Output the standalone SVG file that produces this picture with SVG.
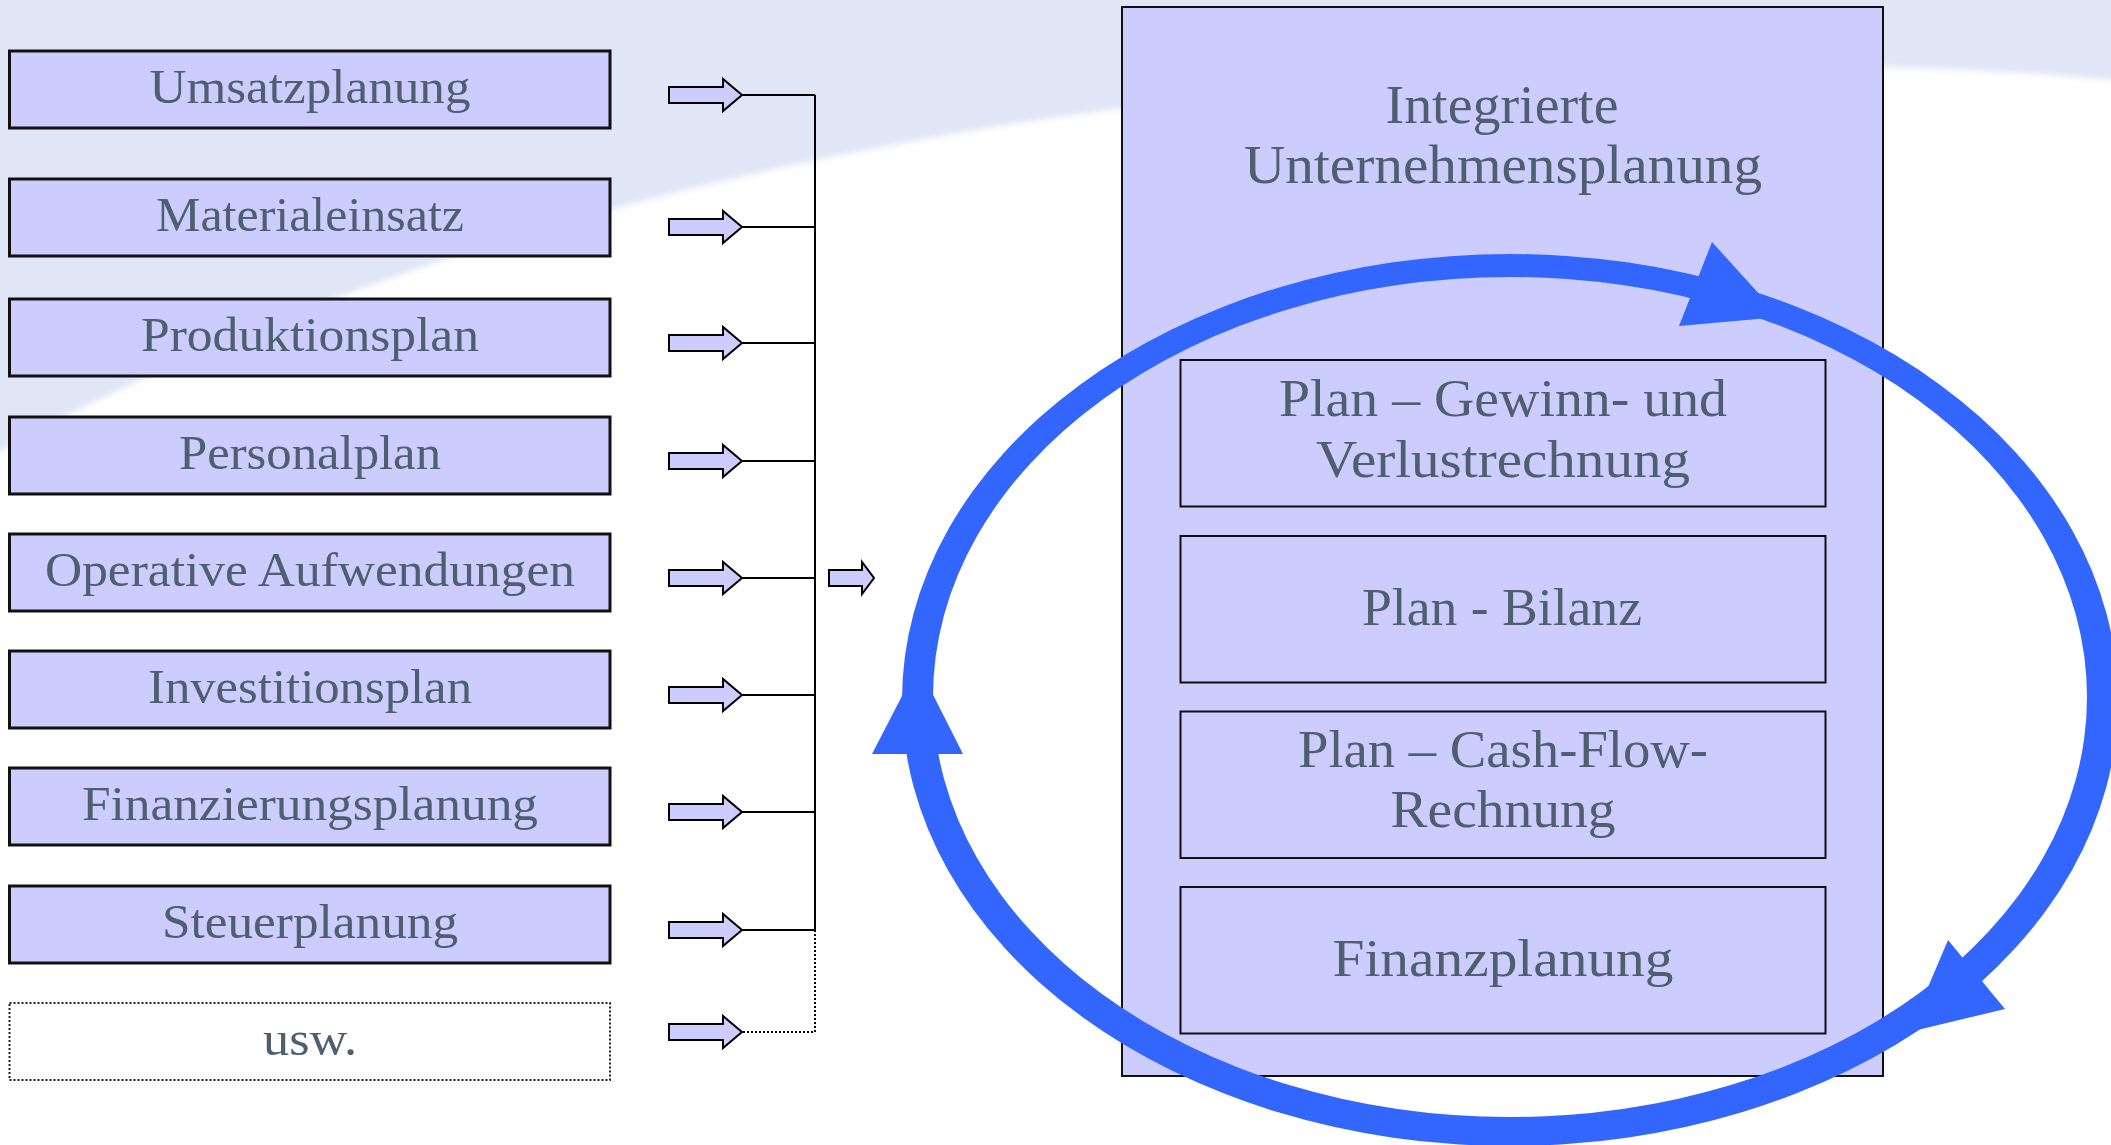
<svg xmlns="http://www.w3.org/2000/svg" width="2111" height="1145" viewBox="0 0 2111 1145">
<style>
.lbox{fill:#ccccff;stroke:#111;stroke-width:3}
.dbox{fill:#ffffff;stroke:#222;stroke-width:2;stroke-dasharray:2 2}
.ibox{fill:#ccccff;stroke:#111;stroke-width:2}
.t{font-family:"Liberation Serif","Times New Roman",serif;fill:#4e6070;text-anchor:middle}
.t48{font-size:48px}
.t52{font-size:52px}
.t54{font-size:54px}
.conn{stroke:#000;stroke-width:2;fill:none}
.dot{stroke:#000;stroke-width:2;fill:none;stroke-dasharray:2 2}
.barrow{fill:#ccccff;stroke:#000;stroke-width:2;stroke-linejoin:miter}
.blue{fill:#3366ff}
</style>
<defs>
<path id="ba" d="M669,-8 H723 V-16 L742,0 L723,16 V8 H669 Z"/>
<filter id="soft" x="-5%" y="-5%" width="110%" height="110%"><feGaussianBlur stdDeviation="3"/></filter>
</defs>
<rect x="0" y="0" width="2111" height="1145" fill="#ffffff"/>
<path d="M-20,-20 H2131 V82 C1900,58 1600,62 1300,88 C800,135 350,255 -20,462 Z" fill="#e0e6f6" filter="url(#soft)"/>

<g id="connectors">
<g class="barrow">
<use href="#ba" transform="translate(0,95)"/>
<use href="#ba" transform="translate(0,227)"/>
<use href="#ba" transform="translate(0,343)"/>
<use href="#ba" transform="translate(0,461)"/>
<use href="#ba" transform="translate(0,578)"/>
<use href="#ba" transform="translate(0,695)"/>
<use href="#ba" transform="translate(0,812)"/>
<use href="#ba" transform="translate(0,930)"/>
<use href="#ba" transform="translate(0,1032)"/>
<path d="M829,570 H862 V562 L874,578 L862,594 V586 H829 Z"/>
</g>
<path class="conn" d="M742,95 H815 M742,227 H815 M742,343 H815 M742,461 H815 M742,578 H815 M742,695 H815 M742,812 H815 M742,930 H815 M815,95 V930"/>
<path class="dot" d="M815,930 V1032 H742"/>
</g>

<g id="n1"><rect class="lbox" x="9.5" y="51" width="600.5" height="77"/><text class="t t48" x="310" y="103" textLength="321" lengthAdjust="spacingAndGlyphs">Umsatzplanung</text></g>
<g id="n2"><rect class="lbox" x="9.5" y="179" width="600.5" height="77"/><text class="t t48" x="310" y="231" textLength="308" lengthAdjust="spacingAndGlyphs">Materialeinsatz</text></g>
<g id="n3"><rect class="lbox" x="9.5" y="299" width="600.5" height="77"/><text class="t t48" x="310" y="351" textLength="338" lengthAdjust="spacingAndGlyphs">Produktionsplan</text></g>
<g id="n4"><rect class="lbox" x="9.5" y="417" width="600.5" height="77"/><text class="t t48" x="310" y="469" textLength="262" lengthAdjust="spacingAndGlyphs">Personalplan</text></g>
<g id="n5"><rect class="lbox" x="9.5" y="534" width="600.5" height="77"/><text class="t t48" x="310" y="586" textLength="530" lengthAdjust="spacingAndGlyphs">Operative Aufwendungen</text></g>
<g id="n6"><rect class="lbox" x="9.5" y="651" width="600.5" height="77"/><text class="t t48" x="310" y="703" textLength="324" lengthAdjust="spacingAndGlyphs">Investitionsplan</text></g>
<g id="n7"><rect class="lbox" x="9.5" y="768" width="600.5" height="77"/><text class="t t48" x="310" y="820" textLength="456" lengthAdjust="spacingAndGlyphs">Finanzierungsplanung</text></g>
<g id="n8"><rect class="lbox" x="9.5" y="886" width="600.5" height="77"/><text class="t t48" x="310" y="938" textLength="296" lengthAdjust="spacingAndGlyphs">Steuerplanung</text></g>
<g id="n9"><rect class="dbox" x="9.5" y="1003" width="600.5" height="77"/><text class="t t48" x="310" y="1055" textLength="94" lengthAdjust="spacingAndGlyphs">usw.</text></g>

<g id="main">
<rect class="ibox" x="1122" y="7" width="761" height="1069"/>
<text class="t t54" x="1502" y="123" textLength="233" lengthAdjust="spacingAndGlyphs">Integrierte</text>
<text class="t t54" x="1503" y="183" textLength="518" lengthAdjust="spacingAndGlyphs">Unternehmensplanung</text>
</g>
<g id="guv"><rect class="ibox" x="1180.5" y="360" width="645" height="146.5"/>
<text class="t t52" x="1503" y="416" textLength="448" lengthAdjust="spacingAndGlyphs">Plan – Gewinn- und</text>
<text class="t t52" x="1503" y="477" textLength="374" lengthAdjust="spacingAndGlyphs">Verlustrechnung</text></g>
<g id="bilanz"><rect class="ibox" x="1180.5" y="536" width="645" height="146.5"/>
<text class="t t52" x="1502" y="625" textLength="280" lengthAdjust="spacingAndGlyphs">Plan - Bilanz</text></g>
<g id="cashflow"><rect class="ibox" x="1180.5" y="711.5" width="645" height="146.5"/>
<text class="t t52" x="1503" y="767" textLength="410" lengthAdjust="spacingAndGlyphs">Plan – Cash-Flow-</text>
<text class="t t52" x="1503" y="827" textLength="225" lengthAdjust="spacingAndGlyphs">Rechnung</text></g>
<g id="finanz"><rect class="ibox" x="1180.5" y="887" width="645" height="146.5"/>
<text class="t t52" x="1503" y="976" textLength="341" lengthAdjust="spacingAndGlyphs">Finanzplanung</text></g>

<g id="cycle" class="blue">
<path fill-rule="evenodd" d="M902,700 a608,446 0 1,0 1216,0 a608,446 0 1,0 -1216,0 Z M933,697 a577,420 0 1,0 1154,0 a577,420 0 1,0 -1154,0 Z"/>
<polygon points="1712,242 1679,326 1780,317"/>
<polygon points="872,754 963,754 918,665"/>
<polygon points="1948,940 2005,1009 1909,1032"/>
</g>
</svg>
